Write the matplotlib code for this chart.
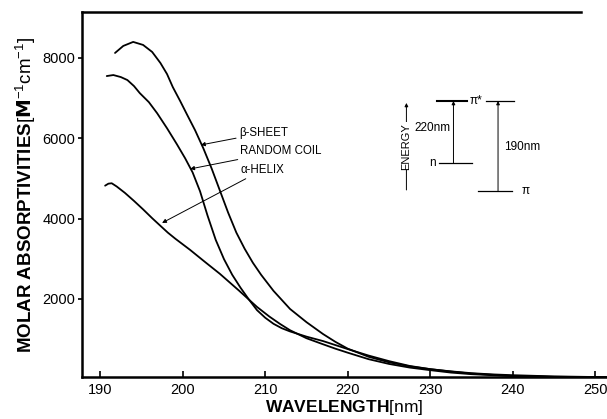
import numpy as np
import matplotlib
matplotlib.use('Agg')
import matplotlib.pyplot as plt

plt.rcParams['font.family'] = ['Liberation Sans', 'DejaVu Sans']
plt.rcParams['mathtext.fontset'] = 'custom'
plt.rcParams['mathtext.rm'] = 'Liberation Sans'

# beta sheet
wl_beta = [191.8, 192.8, 194.0, 195.2, 196.3, 197.3, 198.1, 198.8, 199.7, 200.5, 201.5,
           202.5, 203.5, 204.5, 205.5, 206.5, 207.5, 208.5, 209.5, 211.0, 213.0, 215.0,
           217.0, 218.5, 220.0, 222.5, 225.0, 227.5, 230.0, 232.5, 235.0, 237.5, 240.0,
           245.0, 251.5]
beta = [8125, 8300, 8400, 8325, 8150, 7875, 7600, 7275, 6925, 6600, 6200,
        5750, 5250, 4700, 4150, 3650, 3250, 2900, 2600, 2200, 1750, 1420,
        1125, 930, 760, 560, 420, 320, 250, 195, 150, 120, 100,
        70, 50]

# random coil
wl_coil = [190.8, 191.6, 192.5, 193.3, 194.1, 194.8, 195.9, 196.9, 198.1, 199.3, 200.3,
           201.2, 202.1, 203.0, 204.0, 205.0, 206.0, 207.0, 208.0, 209.0, 210.0, 211.0,
           212.0, 213.0, 215.0, 217.0, 220.0, 222.5, 225.0, 227.5, 230.0, 232.5, 235.0,
           240.0, 245.0, 251.5]
coil = [7550, 7575, 7525, 7450, 7300, 7125, 6900, 6625, 6250, 5850, 5500,
        5150, 4680, 4080, 3470, 2990, 2600, 2280, 1990, 1720, 1530, 1380,
        1270, 1190, 1060, 950, 750, 590, 450, 330, 250, 190, 140,
        80, 60, 50]

# alpha helix
wl_helix = [190.6, 191.0, 191.4, 192.0, 193.0, 194.1, 195.2, 196.3, 197.3, 198.2, 199.1,
            200.9, 202.7, 204.5, 206.8, 209.0, 210.5, 211.8, 213.0, 215.0, 217.0, 218.5,
            220.0, 222.5, 225.0, 227.5, 230.0, 232.5, 235.0, 240.0, 245.0, 251.5]
helix = [4820, 4870, 4880, 4800, 4640, 4440, 4230, 4010, 3820, 3650, 3500,
         3220, 2920, 2625, 2210, 1800, 1560, 1375, 1220, 1020, 870, 760,
         660, 500, 380, 290, 225, 165, 125, 75, 55, 45]

xticks = [190, 200, 210, 220, 230, 240, 250]
yticks = [2000, 4000, 6000, 8000]

fig = plt.figure(figsize=(6.07, 4.19), dpi=100)
ax = fig.add_axes([82/607, 42/419, 525/607, 365/419])

for wl, val in [(wl_beta, beta), (wl_coil, coil), (wl_helix, helix)]:
    ax.plot(wl, val, color='black', lw=1.3, solid_capstyle='round', solid_joinstyle='round')

ax.set_xlim(187.8, 251.4)
ax.set_ylim(55, 9145)
ax.set_xticks(xticks)
ax.set_yticks(yticks)
ax.tick_params(axis='x', direction='in', length=4, width=1.2, labelsize=10.5, pad=4)
ax.tick_params(axis='y', direction='out', length=3, width=1.2, labelsize=10.5, pad=2)

ax.spines['right'].set_visible(False)
for s in ['left', 'bottom', 'top']:
    ax.spines[s].set_linewidth(1.8)
ax.spines['top'].set_bounds(187.8, 248.2)

ax.set_xlabel(r'WAVELENGTH$\mathrm{[nm]}$', fontsize=12.5, fontweight='bold', labelpad=1)
ax.set_ylabel(r'MOLAR ABSORPTIVITIES$[\mathbf{M}^{-1}\mathrm{cm}^{-1}]$', fontsize=13.5,
              fontweight='bold', labelpad=3)

# curve labels
arrow = dict(arrowstyle='-|>', lw=0.7, color='black', mutation_scale=6, shrinkA=0, shrinkB=0)
ax.annotate('β-SHEET', xy=(202.2, 5834), xytext=(206.8, 6133), fontsize=8.3,
            va='center', ha='left', arrowprops=arrow)
ax.annotate('RANDOM COIL', xy=(200.9, 5236), xytext=(207.0, 5684), fontsize=8.3,
            va='center', ha='left', arrowprops=arrow)
ax.annotate('α-HELIX', xy=(197.5, 3892), xytext=(207.0, 5211), fontsize=8.3,
            va='center', ha='left', arrowprops=arrow)

# energy level diagram
ax.plot([230.85, 234.4], [6929, 6929], color='black', lw=1.5)
ax.plot([236.7, 240.1], [6929, 6929], color='black', lw=0.9)
ax.text(235.5, 6929, 'π*', fontsize=8.5, ha='center', va='center')
ax.plot([231.0, 235.1], [5386, 5386], color='black', lw=0.9)
ax.text(230.6, 5386, 'n', fontsize=8.5, ha='right', va='center')
ax.plot([235.8, 239.9], [4688, 4688], color='black', lw=0.9)
ax.text(241.0, 4688, 'π', fontsize=8.5, ha='left', va='center')
small = dict(arrowstyle='-|>', lw=0.7, color='black', mutation_scale=5, shrinkA=0, shrinkB=0)
ax.annotate('', xy=(232.8, 6929), xytext=(232.8, 5386), arrowprops=small)
ax.annotate('', xy=(238.2, 6929), xytext=(238.2, 4688), arrowprops=small)
ax.text(232.4, 6257, '220nm', fontsize=8.5, ha='right', va='center')
ax.text(238.9, 5784, '190nm', fontsize=8.5, ha='left', va='center')
ax.annotate('', xy=(227.1, 6880), xytext=(227.1, 4713), arrowprops=small)
ax.text(227.1, 5800, 'ENERGY', fontsize=8, rotation=90, ha='center', va='center',
        bbox=dict(facecolor='white', edgecolor='none', pad=0.5))

fig.savefig('out.png', dpi=100)
